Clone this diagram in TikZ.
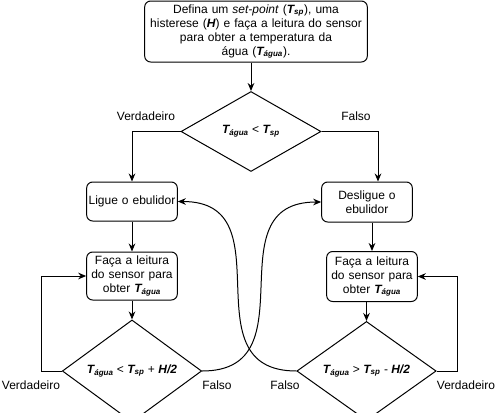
\documentclass[tikz,border=0pt]{standalone}
\usepackage{fontspec}
\setmainfont{Liberation Sans}
\usetikzlibrary{arrows.meta,positioning,shapes.geometric}
\newcommand{\tagua}{\textbf{\textit{T\textsubscript{água}}}}
\newcommand{\tsp}{\textbf{\textit{T\textsubscript{sp}}}}
\newcommand{\hh}{\textbf{\textit{H}}}

\begin{document}
\begin{tikzpicture}[
x=0.75pt,
y=-0.75pt,
line width=0.75pt,
every node/.style={font=\fontsize{9}{10.5}\selectfont},
fbox/.style={rectangle,rounded corners=4.5pt,draw,align=center,inner sep=1pt,minimum width=67.5pt,text width=66pt},
fdec/.style={diamond,draw,align=center,inner sep=0pt,minimum width=104.5pt,minimum height=59pt},
flabel/.style={font=\fontsize{9}{10.5}\selectfont},
flow/.style={-{Stealth[length=6pt,width=5pt]}}
]
\useasboundingbox (0,0) rectangle (497,412);

\node[fbox,minimum width=166.5pt,text width=165pt,minimum height=45.75pt] (inicio) at (256,31.5) {Defina um \textit{set-point} (\tsp), uma\\histerese (\hh) e faça a leitura do sensor\\para obter a temperatura da\\água (\tagua).};
\node[fdec,minimum width=105pt,minimum height=60pt] (teste) at (251,131.5) {\tagua{} < \tsp};

\node[fbox,minimum height=29.25pt] (liga) at (132,201.5) {Ligue o ebulidor};
\node[fbox,minimum height=36pt] (leitura1) at (132,276) {Faça a leitura\\do sensor para\\obter \tagua};
\node[fdec] (teste1) at (132,371) {\tagua{} < \tsp{} + \textbf{\textit{H/2}}};

\node[fbox,minimum height=30pt] (desliga) at (367,202) {Desligue o\\ebulidor};
\node[fbox,minimum height=37.5pt] (leitura2) at (372,276.5) {Faça a leitura\\do sensor para\\obter \tagua};
\node[fdec] (teste2) at (366.5,371) {\tagua{} > \tsp{} - \textbf{\textit{H/2}}};

\node[flabel] (vtopo) at (146,116) {Verdadeiro};
\node[flabel] (ftopo) at (356,116) {Falso};
\node[flabel] (v1) at (31,385) {Verdadeiro};
\node[flabel] (f1) at (217,385) {Falso};
\node[flabel] (f2) at (285,385) {Falso};
\node[flabel] (v2) at (466,385) {Verdadeiro};

\draw[flow] (inicio.south -| teste.north) -- (teste.north);
\draw[flow] (teste.west) -| (liga.north);
\draw[flow] (teste.east) -| ([xshift=8.25pt]desliga.north);

\draw[flow] (liga) -- (leitura1);
\draw[flow] (leitura1) -- (teste1);
\draw[flow] (teste1.west) -- ++(-20.5,0) |- (leitura1.west);

\draw[flow] (desliga.south -| leitura2.north) -- (leitura2.north);
\draw[flow] (leitura2.south -| teste2.north) -- (teste2.north);
\draw[flow] (teste2.east) -- ++(20.5,0) |- (leitura2.east);

% ramos Falso cruzados
\draw[flow] (teste1.east) .. controls +(110,0) and +(-110,0) .. (desliga.west);
\draw[flow] (teste2.west) .. controls +(-110,0) and +(110,0) .. (liga.east);
\end{tikzpicture}
\end{document}
